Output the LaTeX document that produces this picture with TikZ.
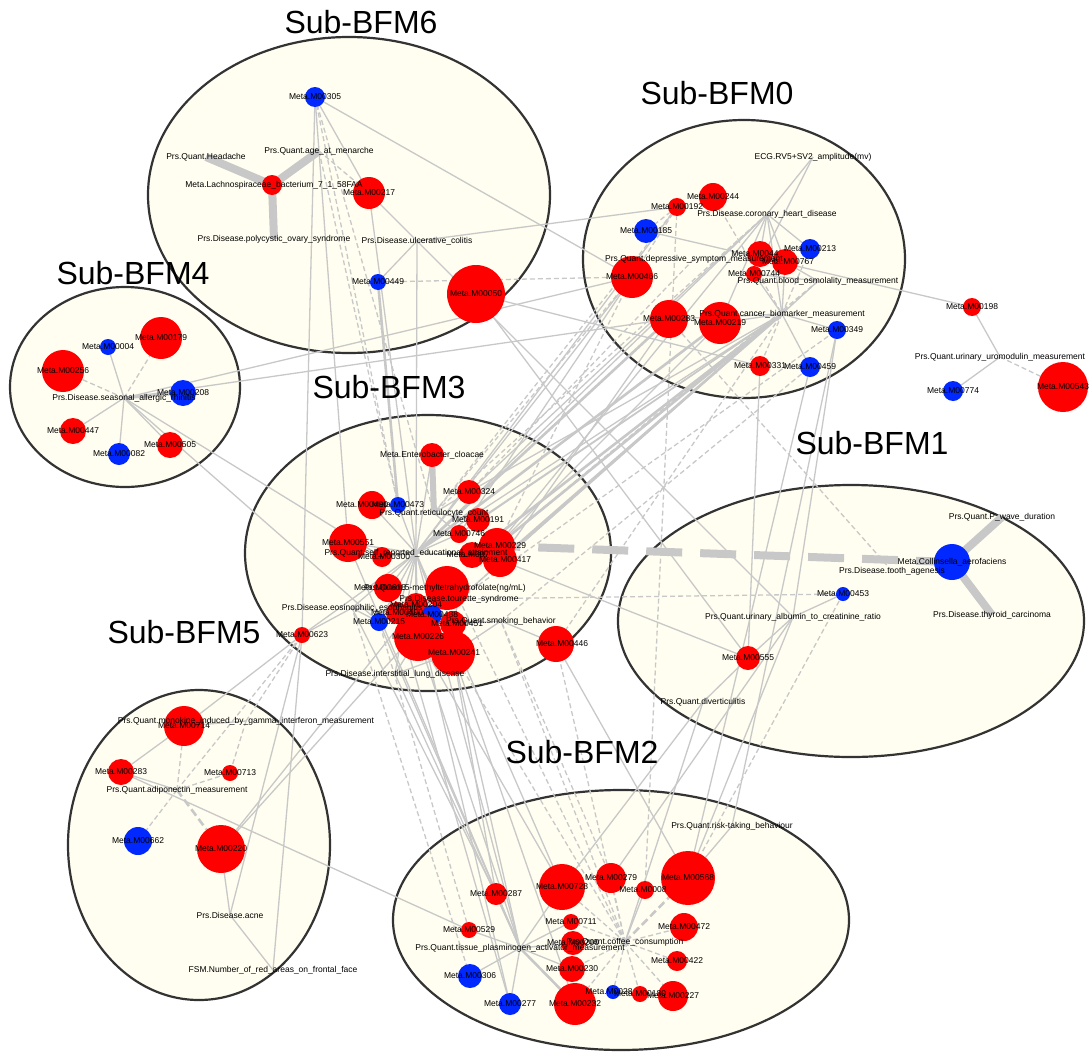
\documentclass[tikz,border=0pt]{standalone}
\usepackage{fontspec}
\setmainfont{Liberation Sans}
\definecolor{cream}{RGB}{255,254,240}
\definecolor{bord}{RGB}{51,51,51}
\definecolor{eg}{RGB}{200,200,200}
\definecolor{nred}{RGB}{255,0,0}
\definecolor{nblue}{RGB}{0,40,255}
\tikzset{
  clu/.style={draw=bord, line width=2.2pt, fill=cream},
  ttl/.style={font=\fontsize{32}{36}\selectfont, inner sep=0pt},
  lbl/.style={font=\fontsize{8.5}{10}\selectfont, inner sep=0pt},
  ed/.style={draw=eg, line width=1.3pt},
  edt/.style={draw=eg, line width=2.6pt},
  edd/.style={draw=eg, line width=1.3pt, dash pattern=on 5pt off 3pt},
  eddt/.style={draw=eg, line width=2.6pt, dash pattern=on 8pt off 4pt},
  ebig/.style={draw=eg, line width=8pt},
  ebigd/.style={draw=eg, line width=8pt, dash pattern=on 36pt off 18pt},
  mc/.style={circle, inner sep=0pt, draw=none}
}
\newcommand\MN[5]{\node[mc, minimum size=#2pt, fill=#3] (#1c) at (#1) {};}
\newcommand\ML[3]{\node[lbl, xshift=#3pt] (#1l) at (#1) {#2};}
\begin{document}
\begin{tikzpicture}[x=1pt,y=-1pt]
\useasboundingbox (0,0) rectangle (1089,1057);
% clusters
\draw[clu] (349,195) ellipse [x radius=201pt, y radius=158pt];
\draw[clu] (744,259) ellipse [x radius=161pt, y radius=139pt];
\draw[clu] (125,387) ellipse [x radius=115pt, y radius=100pt];
\draw[clu] (428,553) ellipse [x radius=183pt, y radius=138pt];
\draw[clu] (851,621) ellipse [x radius=233pt, y radius=136pt];
\draw[clu] (199,845) ellipse [x radius=131pt, y radius=155pt];
\draw[clu] (621,920) ellipse [x radius=228pt, y radius=130pt];
% coordinates
\foreach \n/\x/\y in {m305/315/97, pAge/319/151, pHead/206/157, mLach/272/185, m217/369/193, pPoly/274/239, pUlc/417/241, m449/378/282, m050/476/294,
 pECG/813/157, m244/713/197, m192/677/207, pCor/767/214, m185/646/231, m213/810/249, pDep/694/259, m044/760/254, m767/785/262, m744/754/274, pOsm/818/281, m466/632/277, m283b/669/319, m219/720/323, pCan/782/314, m349/837/330, m331/760/366, m459/810/367,
 m198/972/307, pUro/1000/357, m774/953/391, m543/1063/387,
 m004/108/347, m179/161/338, m256/63/371, pSea/124/398, m208/183/393, m447/73/431, m082/119/454, m505/170/445,
 mEnt/432/455, m324/469/492, m490/372/505, m473/398/505, pRet/434/513, m191/478/520, m746/459/534, m229/497/546, m551/348/543, pEdu/416/553, m300/382/557, m707/472/555, m417/500/560, m618/388/588, mX/447/588, pMTHF/445/588, pTou/459/599, pEos/352/608, m204/416/605, m400/397/613, m488/432/615, m215/379/622, pSmo/501/621, m451/453/624, m226/418/637, m241/453/653, m623/302/635, m446/556/644, pLung/395/674,
 pPw/1002/517, mCol/952/562, pTooth/892/571, m453/843/594, pThy/992/615, pAlb/793/617, m555/748/658, pDiv/703/702,
 m714/184/726, pMono/246/721, m283c/121/772, m713/230/773, pAdi/177/790, m662/138/841, m220/221/849, pAcne/230/915, pFSM/273/970,
 pRisk/732/826, m287/496/894, m728/562/887, m279/611/878, m084/645/890, m568/688/878, m711/571/922, m529/469/930, m472/684/927, pCof/625/942, pTis/520/948, m200/573/943, m230/572/969, m422/677/961, m306/470/976, m277/510/1004, m232/575/1004, m284/613/992, m180/640/994, m227/673/996}
  \coordinate (\n) at (\x,\y);
% very thick edges
\foreach \a/\b in {mLach/pHead, mLach/pAge, mLach/pPoly, mCol/pPw, mCol/pThy} \draw[ebig] (\a) -- (\b);
\draw[ebig, line width=6pt] (mEnt) -- (pRet);
\draw[ebigd] (mCol) -- (m229);
% solid edges
\foreach \a/\b in {m305/m217, m305/m466, m305/m623, m305/m551,
 pUlc/m449, pUlc/m192, pUlc/pEdu, m217/pAlb, m217/pEdu, m050/m555, m050/m331,
 pSea/m004, pSea/m447, pSea/m082, pSea/m505, pSea/m466, pSea/m283b, pSea/m215, pSea/m300,
 pECG/pCor, pECG/m744, pCor/m213, pCor/m767, pCor/m044, pCor/pCan, pCor/m219, pCor/m229, pCor/m324, pCor/pEdu,
 m192/pEdu, m185/m198, pOsm/m767, pOsm/m744, pOsm/pCan,
 pCan/m219, pCan/m283b, pCan/m349, pCan/m459, pCan/m744, pCan/m767, pCan/m324, pCan/m191, pCan/m746, pCan/pEdu, pCan/pTou,
 m466/pEdu, m466/m746, m283b/m417, m219/m229, m331/m555, m198/pUro, pUro/m774,
 m349/pAlb, m349/pRisk, m459/m568, mEnt/pEdu,
 pEdu/m551, pEdu/m300, pEdu/m490, pEdu/m473, pEdu/m746, pEdu/m707, pEdu/m618, pEdu/m204, pEdu/m226, pEdu/m241, pEdu/m215, pEdu/m400, pEdu/pLung, pEdu/m623, pEdu/pEos,
 pRet/m191, pRet/m746, pRet/m324, pTou/mX, pTou/m204, pTou/m451,
 pSmo/m451, pSmo/m446, pSmo/m241, pEos/m215, pEos/m400, pEos/m623, pLung/m226, pLung/m241,
 m555/m417, m555/pAlb, pAlb/m453, pAlb/m279, pAlb/m568, pDiv/m555, pDiv/m728, pDiv/pCof,
 pMono/m714, m283c/m714, m283c/pAdi, m283c/m529, m714/m623, pAcne/m623, pFSM/m623, pAcne/m220, pAcne/pFSM, m220/m488, m220/m204,
 pRisk/m568, pTis/m529, pTis/m306, pTis/m277, pTis/m287, pTis/m728, pTis/m200, pTis/m230, pTis/m711,
 pTis/pEdu, pTis/m226, pTis/m241, pTis/pLung, pTis/m551, pTis/m215,
 m728/pEdu, m728/m226, m287/m241, m287/pEos, m277/m400, m277/m204, m568/m446, m232/m241, pCof/m084}
  \draw[ed] (\a) -- (\b);
\foreach \a/\b in {pCan/m229, pCan/m417, m283b/pEdu, m219/pEdu, pTis/m232, pSea/m208, m449/m473, pCan/m707}
  \draw[edt] (\a) -- (\b);
% dashed edges
\foreach \a/\b in {m305/m473, m305/pRet, pAge/m473, pAge/m217, m449/m466, pSea/m179, pSea/m256,
 m192/m185, m192/m466, m192/pRet, m244/pCan, pCan/m331, pCan/m213, pCor/pRet,
 m466/pRet, m466/m229, pDep/m324, pOsm/m229, pOsm/pTou, pUro/m543, pTooth/m283b, m453/pTou, m453/m568, m192/m084,
 m446/pCan, pSmo/m459, pTou/m349, pAdi/m714, pAdi/m713, pAdi/m662, pMono/m713, pMono/m623, pAdi/m623,
 pCof/m472, pCof/m422, pCof/m227, pCof/m180, pCof/m284, pCof/m279, pCof/m711, pCof/m232, pCof/m230, pCof/m728,
 m529/m215, m306/pEos, pCof/pSmo, pCof/m446, pCof/m241, pCof/pTou, m279/pSmo}
  \draw[edd] (\a) -- (\b);
\foreach \a/\b in {pAdi/m220, pCof/m568} \draw[eddt] (\a) -- (\b);
% circles
\MN{m305}{20}{nblue}{}{} \MN{mLach}{20}{nred}{}{} \MN{m217}{32}{nred}{}{} \MN{m449}{16}{nblue}{}{} \MN{m050}{58}{nred}{}{}
\MN{m244}{28}{nred}{}{} \MN{m192}{18}{nred}{}{} \MN{m185}{24}{nblue}{}{} \MN{m213}{20}{nblue}{}{} \MN{m044}{26}{nred}{}{} \MN{m767}{26}{nred}{}{} \MN{m744}{16}{nred}{}{}
\MN{m466}{42}{nred}{}{} \MN{m283b}{38}{nred}{}{} \MN{m219}{42}{nred}{}{} \MN{m349}{18}{nblue}{}{} \MN{m331}{20}{nred}{}{} \MN{m459}{20}{nblue}{}{}
\MN{m198}{18}{nred}{}{} \MN{m774}{20}{nblue}{}{} \MN{m543}{50}{nred}{}{}
\MN{m004}{16}{nblue}{}{} \MN{m179}{42}{nred}{}{} \MN{m256}{42}{nred}{}{} \MN{m208}{26}{nblue}{}{} \MN{m447}{26}{nred}{}{} \MN{m082}{22}{nblue}{}{} \MN{m505}{26}{nred}{}{}
\MN{mEnt}{24}{nred}{}{} \MN{m324}{24}{nred}{}{} \MN{m490}{28}{nred}{}{} \MN{m473}{16}{nblue}{}{} \MN{m191}{24}{nred}{}{} \MN{m746}{18}{nred}{}{} \MN{m229}{36}{nred}{}{}
\MN{m551}{38}{nred}{}{} \MN{m300}{20}{nred}{}{} \MN{m707}{26}{nred}{}{} \MN{m417}{34}{nred}{}{} \MN{m618}{28}{nred}{}{} \MN{mX}{44}{nred}{}{}
\MN{m204}{24}{nred}{}{} \MN{m400}{22}{nred}{}{} \MN{m488}{20}{nblue}{}{} \MN{m215}{18}{nblue}{}{} \MN{m451}{26}{nred}{}{} \MN{m226}{48}{nred}{}{} \MN{m241}{44}{nred}{}{} \MN{m623}{16}{nred}{}{} \MN{m446}{36}{nred}{}{}
\MN{mCol}{36}{nblue}{}{} \MN{m453}{14}{nblue}{}{} \MN{m555}{24}{nred}{}{}
\MN{m714}{40}{nred}{}{} \MN{m283c}{26}{nred}{}{} \MN{m713}{16}{nred}{}{} \MN{m662}{28}{nblue}{}{} \MN{m220}{48}{nred}{}{}
\MN{m287}{22}{nred}{}{} \MN{m728}{46}{nred}{}{} \MN{m279}{30}{nred}{}{} \MN{m084}{18}{nred}{}{} \MN{m568}{54}{nred}{}{} \MN{m711}{16}{nred}{}{} \MN{m529}{16}{nred}{}{} \MN{m472}{28}{nred}{}{}
\MN{m200}{24}{nred}{}{} \MN{m230}{26}{nred}{}{} \MN{m422}{20}{nred}{}{} \MN{m306}{24}{nblue}{}{} \MN{m277}{22}{nblue}{}{} \MN{m232}{42}{nred}{}{} \MN{m284}{14}{nblue}{}{} \MN{m180}{16}{nred}{}{} \MN{m227}{30}{nred}{}{}
% labels
\ML{m305}{Meta.M00305}{0} \ML{pAge}{Prs.Quant.age\_at\_menarche}{0} \ML{pHead}{Prs.Quant.Headache}{0}
\ML{m217}{Meta.M00217}{0} \ML{mLach}{Meta.Lachnospiraceae\_bacterium\_7\_1\_58FAA}{2}
\ML{pPoly}{Prs.Disease.polycystic\_ovary\_syndrome}{0} \ML{pUlc}{Prs.Disease.ulcerative\_colitis}{0}
\ML{m449}{Meta.M00449}{0} \ML{m050}{Meta.M00050}{0}
\ML{pECG}{ECG.RV5+SV2\_amplitude(mv)}{0} \ML{m244}{Meta.M00244}{0} \ML{m192}{Meta.M00192}{0} \ML{pCor}{Prs.Disease.coronary\_heart\_disease}{0}
\ML{m185}{Meta.M00185}{0} \ML{m213}{Meta.M00213}{0} \ML{pDep}{Prs.Quant.depressive\_symptom\_measurement}{0}
\ML{m044}{Meta.M0044}{-5} \ML{m767}{Meta.M00767}{3} \ML{m744}{Meta.M00744}{0} \ML{pOsm}{Prs.Quant.blood\_osmolality\_measurement}{0}
\ML{m466}{Meta.M00466}{0} \ML{m283b}{Meta.M00283}{0} \ML{pCan}{Prs.Quant.cancer\_biomarker\_measurement}{0} \ML{m219}{Meta.M00219}{0}
\ML{m349}{Meta.M00349}{0} \ML{m331}{Meta.M00331}{0} \ML{m459}{Meta.M00459}{0}
\ML{m198}{Meta.M00198}{0} \ML{pUro}{Prs.Quant.urinary\_uromodulin\_measurement}{0} \ML{m774}{Meta.M00774}{0} \ML{m543}{Meta.M00543}{0}
\ML{m004}{Meta.M00004}{0} \ML{m179}{Meta.M00179}{0} \ML{m256}{Meta.M00256}{0} \ML{pSea}{Prs.Disease.seasonal\_allergic\_rhinitis}{0}
\ML{m208}{Meta.M00208}{0} \ML{m447}{Meta.M00447}{0} \ML{m082}{Meta.M00082}{0} \ML{m505}{Meta.M00505}{0}
\ML{mEnt}{Meta.Enterobacter\_cloacae}{0} \ML{m324}{Meta.M00324}{0} \ML{m490}{Meta.M00490}{-10} \ML{m473}{Meta.M00473}{0}
\ML{pRet}{Prs.Quant.reticulocyte\_count}{0} \ML{m191}{Meta.M00191}{0} \ML{m746}{Meta.M00746}{0} \ML{m229}{Meta.M00229}{3}
\ML{m551}{Meta.M00551}{0} \ML{pEdu}{Prs.Quant.self\_reported\_educational\_attainment}{0} \ML{m300}{Meta.M00300}{2}
\ML{m707}{Meta.M007}{-4} \ML{m417}{Meta.M00417}{5} \ML{m618}{Meta.M00618}{-8} \ML{pMTHF}{Prs.Quant.5-methyltetrahydrofolate(ng/mL)}{0}
\ML{pTou}{Prs.Disease.tourette\_syndrome}{0} \ML{pEos}{Prs.Disease.eosinophilic\_esophagitis}{0} \ML{m204}{Meta.M00204}{0}
\ML{m400}{Meta.M00400}{0} \ML{m488}{Meta.M00488}{0} \ML{m215}{Meta.M00215}{0} \ML{pSmo}{Prs.Quant.smoking\_behavior}{0}
\ML{m451}{Meta.M00451}{4} \ML{m226}{Meta.M00226}{0} \ML{m241}{Meta.M00241}{1} \ML{m623}{Meta.M00623}{0} \ML{m446}{Meta.M00446}{6}
\ML{pLung}{Prs.Disease.interstitial\_lung\_disease}{0}
\ML{pPw}{Prs.Quant.P\_wave\_duration}{0} \ML{pTooth}{Prs.Disease.tooth\_agenesis}{0} \ML{mCol}{Meta.Collinsella\_aerofaciens}{0}
\ML{m453}{Meta.M00453}{0} \ML{pThy}{Prs.Disease.thyroid\_carcinoma}{0} \ML{pAlb}{Prs.Quant.urinary\_albumin\_to\_creatinine\_ratio}{0}
\ML{m555}{Meta.M00555}{0} \ML{pDiv}{Prs.Quant.diverticulitis}{0}
\ML{m714}{Meta.M00714}{0} \ML{pMono}{Prs.Quant.monokine\_induced\_by\_gamma\_interferon\_measurement}{0}
\ML{m283c}{Meta.M00283}{0} \ML{m713}{Meta.M00713}{0} \ML{pAdi}{Prs.Quant.adiponectin\_measurement}{0}
\ML{m662}{Meta.M00662}{0} \ML{m220}{Meta.M00220}{0} \ML{pAcne}{Prs.Disease.acne}{0} \ML{pFSM}{FSM.Number\_of\_red\_areas\_on\_frontal\_face}{0}
\ML{pRisk}{Prs.Quant.risk-taking\_behaviour}{0} \ML{m287}{Meta.M00287}{0} \ML{m728}{Meta.M00728}{0} \ML{m279}{Meta.M00279}{0}
\ML{m084}{Meta.M0008}{-2} \ML{m568}{Meta.M00568}{0} \ML{m711}{Meta.M00711}{0} \ML{m529}{Meta.M00529}{0} \ML{m472}{Meta.M00472}{0}
\ML{pTis}{Prs.Quant.tissue\_plasminogen\_activator\_measurement}{0} \ML{m200}{Meta.M00200}{0} \ML{pCof}{Prs.Quant.coffee\_consumption}{0}
\ML{m230}{Meta.M00230}{0} \ML{m422}{Meta.M00422}{0} \ML{m306}{Meta.M00306}{0} \ML{m277}{Meta.M00277}{0} \ML{m232}{Meta.M00232}{0}
\ML{m284}{Meta.M0028}{-4} \ML{m180}{Meta.M00180}{0} \ML{m227}{Meta.M00227}{0}
% titles
\node[ttl] (t6) at (361,22) {Sub-BFM6};
\node[ttl] (t0) at (717,93) {Sub-BFM0};
\node[ttl] (t4) at (133,273) {Sub-BFM4};
\node[ttl] (t3) at (389,387) {Sub-BFM3};
\node[ttl] (t1) at (872,443) {Sub-BFM1};
\node[ttl] (t5) at (184,632) {Sub-BFM5};
\node[ttl] (t2) at (582,752) {Sub-BFM2};
\end{tikzpicture}
\end{document}
